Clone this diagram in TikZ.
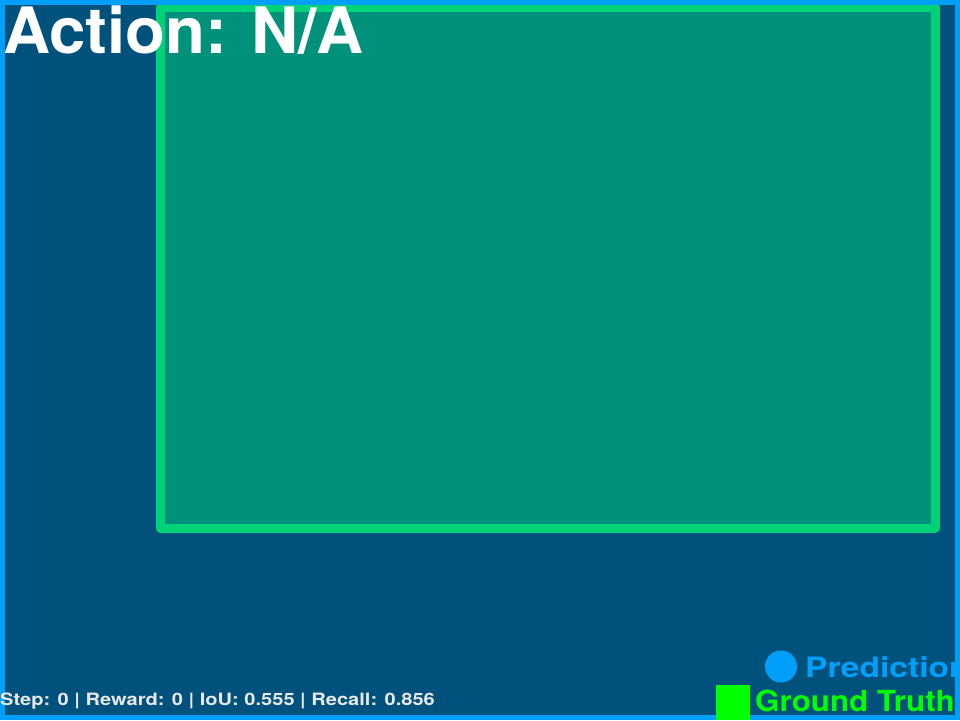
\documentclass[tikz,border=0pt]{standalone}
\usepackage{fontspec}
\setmainfont{TeX Gyre Heros}
\definecolor{bgblue}{HTML}{00527D}
\definecolor{edgeblue}{HTML}{00A0FA}
\definecolor{boxgreen}{HTML}{00D278}
\definecolor{boxfill}{HTML}{00917A}
\definecolor{gtgreen}{HTML}{00FF00}
\definecolor{infotext}{HTML}{E8E8E8}
\tikzset{
  lbl/.style={inner sep=0pt, anchor=base west},
}
\begin{document}
\begin{tikzpicture}[x=1pt,y=-1pt]
\useasboundingbox (0,0) rectangle (960,720);
\clip (0,0) rectangle (960,720);
\fill[bgblue] (0,0) rectangle (960,720);
\draw[boxgreen, fill=boxfill, line width=9pt, line join=round] (160,7) rectangle (935,528);
\node[lbl, text=edgeblue, font=\bfseries\fontsize{28}{28}\selectfont] (pred) at (805,677) {\scalebox{1.2}[1]{Prediction}};
\node[lbl, text=gtgreen, font=\bfseries\fontsize{29}{29}\selectfont] (gt) at (755,711.5) {\scalebox{1.08}[1]{Ground Truth}};
\draw[edgeblue, line width=5pt] (2.5,2.5) rectangle (957.5,717.5);
\fill[edgeblue] (781,666.5) circle (16);
\fill[gtgreen] (716,685) rectangle (750,720);
\node[lbl, text=white, font=\bfseries\fontsize{64}{64}\selectfont] (act) at (3,53) {\scalebox{1.02}[1]{Action: N/A}};
\node[lbl, text=infotext, font=\bfseries\fontsize{17}{17}\selectfont] (info) at (0,705.7) {\scalebox{1.18}[1]{Step: 0 | Reward: 0 | IoU: 0.555 | Recall: 0.856}};
\end{tikzpicture}
\end{document}
